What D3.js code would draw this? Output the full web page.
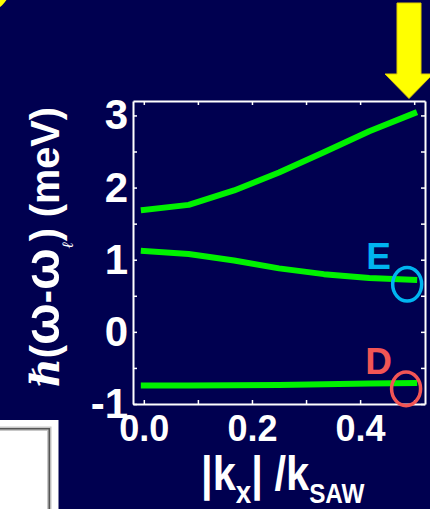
<!DOCTYPE html>
<html>
<head>
<meta charset="utf-8">
<script src="https://cdn.jsdelivr.net/npm/d3@7"></script>
<style>
  html, body { margin: 0; padding: 0; background: #000050; overflow: hidden; }
  svg { display: block; }
  text { font-family: "Liberation Sans", Arial, sans-serif; font-weight: bold; fill: #fff; }
</style>
</head>
<body>
<svg id="chart" width="430" height="509"></svg>
<script>
// Dispersion of the three polariton branches versus in-plane wavevector
const kx = [0, 0.083, 0.167, 0.25, 0.333, 0.417, 0.5];
const upperBranch  = [1.69, 1.76, 1.96, 2.21, 2.49, 2.78, 3.03];
const middleBranch = [1.12, 1.08, 0.99, 0.88, 0.80, 0.745, 0.72];
const lowerBranch  = [-0.745, -0.745, -0.74, -0.735, -0.725, -0.715, -0.71];

const xTicks = [0, 0.1, 0.2, 0.3, 0.4, 0.5];
const xLabelTicks = [0, 0.2, 0.4];
const yTicks = [-1, -0.5, 0, 0.5, 1, 1.5, 2, 2.5, 3];
const yLabelTicks = [-1, 0, 1, 2, 3];

// Marked states at the zone edge
const stateNames = ["E", "D"];
const stateK = [0.487, 0.485];
const stateE = [0.66, -0.79];
const stateColors = ["#00b4f0", "#f25555"];

const W = 430, H = 509;
const svg = d3.select("#chart");
svg.append("rect").attr("width", W).attr("height", H).attr("fill", "#000050");

const plot = { left: 133, right: 425, top: 101, bottom: 404 };
const x = d3.scaleLinear().domain([-0.02, 0.52]).range([plot.left, plot.right]);
const y = d3.scaleLinear().domain([-1, 3.2]).range([plot.bottom, plot.top]);

// decorative yellow disc in the corner
svg.append("circle").attr("cx", -20).attr("cy", -18).attr("r", 32).attr("fill", "#ffff00");

// white panel at lower left
svg.append("rect").attr("x", 0).attr("y", 420).attr("width", 58.5).attr("height", 95).attr("fill", "#fff");
svg.append("path").attr("d", "M0,428.7 H49.3 V515").attr("fill", "none")
  .attr("stroke", "#c8c8c8").attr("stroke-width", 4.5);
svg.append("path").attr("d", "M0,428.7 H49.3 V515").attr("fill", "none")
  .attr("stroke", "#555").attr("stroke-width", 1.6);

// yellow pointer arrow
svg.append("path")
  .attr("d", "M397,3 H421 V74 H433 L409,98.5 L385,74 H397 Z")
  .attr("fill", "#ffff00").attr("stroke", "#e0cc00").attr("stroke-width", 1);

// axes with inward ticks forming a closed frame
const fmtX = d => xLabelTicks.some(v => Math.abs(v - d) < 1e-9) ? d3.format(".1f")(d) : "";
const fmtY = d => yLabelTicks.includes(d) ? String(d) : "";

const gLeft = svg.append("g").attr("transform", `translate(${plot.left},0)`)
  .call(d3.axisLeft(y).tickValues(yTicks).tickSizeInner(-4).tickSizeOuter(0).tickPadding(5).tickFormat(fmtY));
const gRight = svg.append("g").attr("transform", `translate(${plot.right},0)`)
  .call(d3.axisRight(y).tickValues(yTicks).tickSizeInner(-4).tickSizeOuter(0).tickFormat(""));
const gTop = svg.append("g").attr("transform", `translate(0,${plot.top})`)
  .call(d3.axisTop(x).tickValues(xTicks).tickSizeInner(-4).tickSizeOuter(0).tickFormat(""));
const gBottom = svg.append("g").attr("transform", `translate(0,${plot.bottom})`)
  .call(d3.axisBottom(x).tickValues(xTicks).tickSizeInner(-4).tickSizeOuter(0).tickPadding(11).tickFormat(fmtX));

[gLeft, gRight, gTop, gBottom].forEach(g => {
  g.select(".domain").attr("stroke", "#fff").attr("stroke-width", 2);
  g.selectAll(".tick line").attr("stroke", "#fff").attr("stroke-width", 1.5);
  g.selectAll(".tick text").attr("fill", "#fff")
    .style("font-family", '"Liberation Sans", Arial, sans-serif').style("font-weight", "bold");
});
gLeft.selectAll(".tick text").style("font-size", "42px");
gBottom.selectAll(".tick text").style("font-size", "36px");
gBottom.raise();

// branches
const line = d3.line().x(d => x(d[0])).y(d => y(d[1])).curve(d3.curveLinear);
[upperBranch, middleBranch, lowerBranch].forEach(vals => {
  svg.append("path")
    .datum(kx.map((k, i) => [k, vals[i]]))
    .attr("d", line)
    .attr("fill", "none")
    .attr("stroke", "#00f200")
    .attr("stroke-width", 6)
    .attr("stroke-linecap", "square")
    .attr("stroke-linejoin", "round");
});

// state markers and letters
const labelBaseline = [269.3, 374.3];
stateNames.forEach((name, i) => {
  svg.append("ellipse")
    .attr("cx", x(stateK[i])).attr("cy", y(stateE[i]))
    .attr("rx", 14.5).attr("ry", 16.8)
    .attr("fill", "none").attr("stroke", stateColors[i]).attr("stroke-width", 3.5);
  svg.append("text")
    .attr("x", 378.6).attr("y", labelBaseline[i])
    .attr("text-anchor", "middle")
    .style("font-size", "37px")
    .attr("fill", stateColors[i]).style("fill", stateColors[i])
    .text(name);
});

// stretch a text group to a given length along its own direction
function fitText(g, len, cx, cy, rot) {
  const t = g.select("text");
  const b = t.node().getBBox();
  const sx = len / b.width;
  g.attr("transform",
    `translate(${cx},${cy}) rotate(${rot}) scale(${sx},1) translate(${-(b.x + b.width / 2)},0)`);
}

// x-axis title
const gxt = svg.append("g");
const xt = gxt.append("text").style("font-size", "48px");
xt.append("tspan").text("|k");
xt.append("tspan").style("font-size", "32px").attr("dy", 13).text("x");
xt.append("tspan").attr("dy", -13).text("| /k");
xt.append("tspan").style("font-size", "28px").attr("dy", 13).text("SAW");
fitText(gxt, 164, 283, 490, 0);

// y-axis title
const gyt = svg.append("g");
const yt = gyt.append("text").style("font-size", "40px");
yt.append("tspan").style("font-family", '"DejaVu Serif", serif').style("font-style", "italic").text("ℏ");
yt.append("tspan").text("(");
yt.append("tspan").style("font-size", "50px").text("ω");
yt.append("tspan").text("-");
yt.append("tspan").style("font-size", "50px").text("ω");
yt.append("tspan").style("font-size", "16px").style("font-family", '"DejaVu Serif", serif')
  .style("font-style", "italic").attr("dy", 14).text("ℓ");
yt.append("tspan").attr("dy", -14).text(") (meV)");
fitText(gyt, 280, 59, 247, -90);
</script>
</body>
</html>
